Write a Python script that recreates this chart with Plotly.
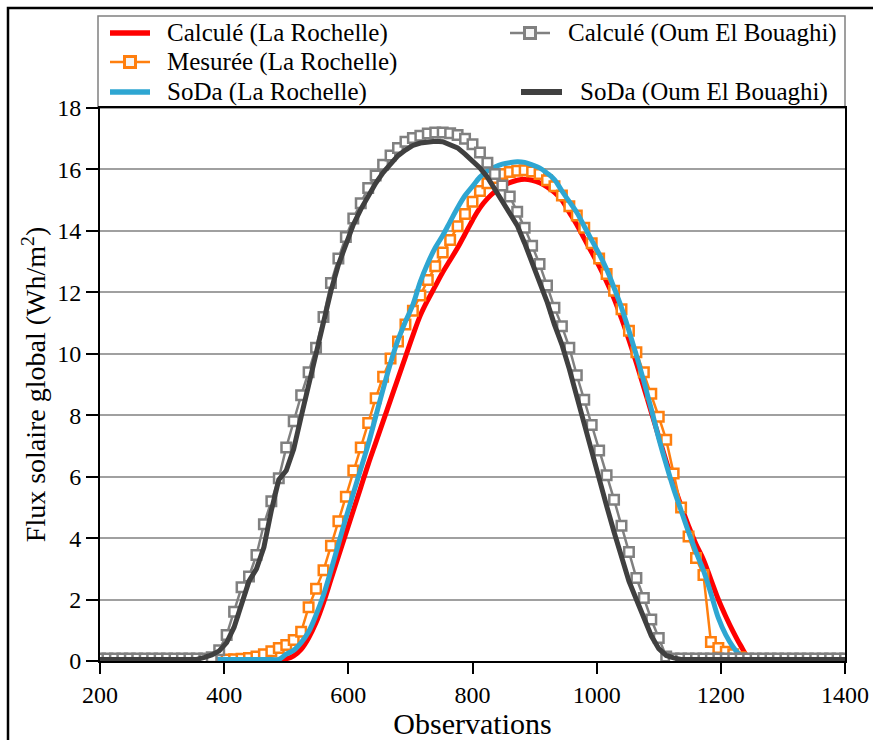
import plotly.graph_objects as go

# Observation index grid (sampling step ~12 observations)
X = list(range(200, 1401, 12))
X_MES = list(range(404, 1233, 12))

calc_lr = [0.03] * 25 + [
    0.07, 0.17, 0.38, 0.75, 1.25, 1.9, 2.65, 3.4, 4.15, 4.9, 5.65, 6.4, 7.1, 7.8, 8.5,
    9.2, 9.9, 10.6, 11.25, 11.75, 12.2, 12.65, 13.05, 13.45, 13.9, 14.35, 14.75, 15.05,
    15.28, 15.45, 15.57, 15.65, 15.68, 15.65, 15.57, 15.43, 15.25, 15.0, 14.6, 14.2,
    13.75, 13.3, 12.85, 12.35, 11.8, 11.15, 10.45, 9.7, 8.9, 8.1, 7.3, 6.5, 5.75, 5.05,
    4.4, 3.8, 3.3, 2.65, 2.0, 1.45, 0.95, 0.5, 0.12] + [0.03] * 13

mes_lr = [
    0.05, 0.06, 0.07, 0.1, 0.15, 0.22, 0.32, 0.42, 0.52, 0.68, 0.95, 1.75, 2.35, 2.95,
    3.75, 4.55, 5.35, 6.2, 6.95, 7.75, 8.55, 9.25, 9.85, 10.4, 10.95, 11.4, 11.9, 12.4,
    12.85, 13.3, 13.7, 14.15, 14.55, 14.95, 15.3, 15.55, 15.72, 15.85, 15.92, 15.96,
    15.97, 15.93, 15.85, 15.65, 15.45, 15.15, 14.8, 14.5, 14.1, 13.6, 13.1, 12.6, 12.05,
    11.45, 10.75, 10.05, 9.4, 8.7, 7.95, 7.2, 6.1, 5.0, 4.05, 3.35, 2.8, 0.62, 0.42,
    0.3, 0.22, 0.12]

soda_lr = [0.05] * 25 + [
    0.22, 0.35, 0.6, 0.95, 1.5, 2.15, 2.95, 3.8, 4.65, 5.45, 6.25, 7.05, 7.95, 8.85,
    9.7, 10.45, 11.05, 11.6, 12.35, 12.95, 13.45, 13.85, 14.3, 14.75, 15.15, 15.45,
    15.75, 15.95, 16.08, 16.17, 16.22, 16.25, 16.23, 16.15, 16.05, 15.88, 15.67, 15.3,
    14.95, 14.6, 14.15, 13.7, 13.25, 12.75, 12.15, 11.5, 10.75, 9.95, 9.1, 8.2, 7.25,
    6.4, 5.6, 4.9, 4.2, 3.55, 2.95, 2.2, 1.4, 0.85, 0.45, 0.18] + [0.05] * 14

calc_oeb = [0.08] * 15 + [
    0.12, 0.35, 0.85, 1.6, 2.4, 2.75, 3.45, 4.45, 5.2, 5.95, 6.95, 7.8, 8.65, 9.4,
    10.2, 11.2, 12.3, 13.1, 13.8, 14.4, 14.9, 15.4, 15.8, 16.15, 16.45, 16.7, 16.9,
    17.02, 17.1, 17.17, 17.2, 17.2, 17.18, 17.12, 17.0, 16.82, 16.55, 16.22, 15.85,
    15.48, 15.12, 14.62, 14.1, 13.52, 12.92, 12.22, 11.5, 10.9, 10.2, 9.3, 8.5, 7.68,
    6.85, 6.05, 5.25, 4.4, 3.55, 2.7, 2.05, 1.35, 0.75, 0.15] + [0.08] * 24

soda_oeb = [0.05] * 14 + [
    0.12, 0.2, 0.33, 0.6, 1.1, 1.8, 2.6, 3.0, 3.7, 4.9, 5.9, 6.2, 6.9, 7.95, 9.0,
    10.0, 11.1, 12.05, 12.9, 13.6, 14.2, 14.7, 15.15, 15.55, 15.9, 16.2, 16.45, 16.63,
    16.78, 16.86, 16.9, 16.92, 16.9, 16.82, 16.7, 16.5, 16.3, 16.05, 15.75, 15.35,
    15.0, 14.62, 14.18, 13.6, 13.0, 12.4, 11.7, 10.95, 10.3, 9.5, 8.6, 7.6, 6.75, 5.9,
    5.05, 4.2, 3.35, 2.6, 2.0, 1.4, 0.82, 0.4, 0.18, 0.1] + [0.05] * 23

SERIES_NAMES = ["Calculé (La Rochelle)", "Mesurée (La Rochelle)", "SoDa (La Rochelle)",
                "Calculé (Oum El Bouaghi)", "SoDa (Oum El Bouaghi)"]

FONT = "Liberation Serif"
RED = "#ff0000"
ORANGE = "#ff7f0e"
BLUE = "#2ea6d2"
GRAY = "#808080"
DARK = "#404040"

fig = go.Figure()
fig.add_trace(go.Scatter(x=X, y=calc_lr, name=SERIES_NAMES[0], mode="lines",
                         line=dict(color=RED, width=5, shape="spline")))
fig.add_trace(go.Scatter(x=X_MES, y=mes_lr, name=SERIES_NAMES[1], mode="lines+markers",
                         line=dict(color=ORANGE, width=2.5),
                         marker=dict(symbol="square", size=9.5, color="white",
                                     line=dict(color=ORANGE, width=2.5))))
fig.add_trace(go.Scatter(x=X, y=soda_lr, name=SERIES_NAMES[2], mode="lines",
                         line=dict(color=BLUE, width=5, shape="spline")))
fig.add_trace(go.Scatter(x=X, y=calc_oeb, name=SERIES_NAMES[3], mode="lines+markers",
                         line=dict(color=GRAY, width=2.5),
                         marker=dict(symbol="square", size=9.5, color="white",
                                     line=dict(color=GRAY, width=2.5))))
fig.add_trace(go.Scatter(x=X, y=soda_oeb, name=SERIES_NAMES[4], mode="lines",
                         line=dict(color=DARK, width=5)))

PLOT_W = 745.0
PLOT_H = 553.0
L, T = 100.0, 108.0


def px(xp):
    return (xp - L) / PLOT_W


def py(yp):
    return 1 + (T - yp) / PLOT_H


shapes = [
    # legend box
    dict(type="rect", xref="paper", yref="paper", x0=px(98), x1=px(845), y0=py(108), y1=py(16),
         line=dict(color="#808080", width=1.5), fillcolor="white", layer="below"),
    # outer frame
    dict(type="rect", xref="paper", yref="paper", x0=px(8), x1=px(1000), y0=py(900), y1=py(8),
         line=dict(color="black", width=2.5), fillcolor="rgba(0,0,0,0)", layer="below"),
]

# legend keys: (name, color, width, x0, x1, y, has_marker, text_x)
legend_keys = [
    (SERIES_NAMES[0], RED, 5.5, 110, 150, 33, False, 165),
    (SERIES_NAMES[1], ORANGE, 2.5, 110, 150, 62, True, 165),
    (SERIES_NAMES[2], BLUE, 5.5, 110, 150, 92, False, 165),
    (SERIES_NAMES[3], GRAY, 2.5, 510, 550, 33, True, 566),
    (SERIES_NAMES[4], DARK, 6, 521, 562, 92, False, 578),
]
annotations = []
for name, color, w, x0, x1, yk, mk, tx in legend_keys:
    shapes.append(dict(type="line", xref="paper", yref="paper", x0=px(x0), x1=px(x1),
                       y0=py(yk), y1=py(yk), line=dict(color=color, width=w)))
    if mk:
        cx = (x0 + x1) / 2
        shapes.append(dict(type="rect", xref="paper", yref="paper",
                           x0=px(cx - 5.5), x1=px(cx + 5.5), y0=py(yk + 5.5), y1=py(yk - 5.5),
                           line=dict(color=color, width=3), fillcolor="#f4f4f4"))
    annotations.append(dict(text=name, xref="paper", yref="paper", x=px(tx), y=py(yk),
                            xanchor="left", yanchor="middle", showarrow=False,
                            font=dict(family=FONT, size=25, color="black")))

fig.update_layout(
    width=873, height=740,
    margin=dict(l=100, r=28, t=108, b=79, pad=0),
    paper_bgcolor="white", plot_bgcolor="white",
    font=dict(family=FONT, color="black", size=24),
    showlegend=False,
    xaxis=dict(range=[200, 1400], tick0=200, dtick=200, ticks="outside", ticklen=11,
               tickwidth=2, tickcolor="black", showline=True, linecolor="black",
               linewidth=2, mirror=True, showgrid=False, zeroline=False, automargin=False,
               tickfont=dict(size=24, family=FONT),
               title=dict(text="Observations", font=dict(size=30, family=FONT), standoff=4)),
    yaxis=dict(range=[0, 18], tick0=0, dtick=2, ticks="outside", ticklen=12,
               tickwidth=2, tickcolor="black", showline=True, linecolor="black",
               linewidth=2, mirror=True, showgrid=True, gridcolor="#a0a0a0",
               gridwidth=1.5, zeroline=False, automargin=False,
               tickfont=dict(size=24, family=FONT),
               title=dict(text="Flux solaire global (Wh/m<sup>2</sup>)",
                          font=dict(size=28, family=FONT), standoff=3)),
    shapes=shapes,
    annotations=annotations,
)

fig.write_html("out.html")
